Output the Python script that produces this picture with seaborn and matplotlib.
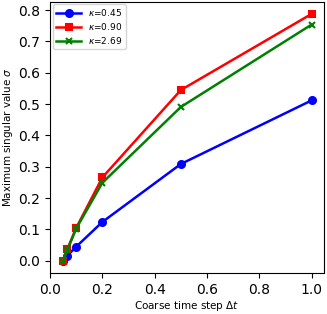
import matplotlib
matplotlib.use("Agg")
import matplotlib.pyplot as plt
import pandas as pd
import seaborn as sns

# coarse time steps and max singular values per kappa
dt = [0.05, 0.0667, 0.1, 0.2, 0.5, 1.0]
sigma_045 = [0.0, 0.017, 0.045, 0.124, 0.309, 0.512]
sigma_090 = [0.0, 0.038, 0.105, 0.266, 0.545, 0.788]
sigma_269 = [0.0, 0.036, 0.103, 0.249, 0.491, 0.754]
labels = [r"$\kappa$=0.45", r"$\kappa$=0.90", r"$\kappa$=2.69"]
colors = ["blue", "red", "green"]
markers = ["o", "s", "x"]

fig, ax = plt.subplots(figsize=(3.27, 3.14), dpi=100)
for s, lab, c, m in zip([sigma_045, sigma_090, sigma_269], labels, colors, markers):
    df = pd.DataFrame({"dt": dt, "sigma": s})
    sns.lineplot(
        data=df, x="dt", y="sigma", color=c, marker=m, label=lab,
        markersize=5, markeredgewidth=1.5, markeredgecolor=c,
        linewidth=1.8, ax=ax,
    )
ax.set_xlabel(r"Coarse time step $\Delta t$", fontsize=7.5, labelpad=1.5)
ax.set_ylabel(r"Maximum singular value $\sigma$", fontsize=7.5, labelpad=2.5)
ax.tick_params(labelsize=10)
ax.set_xticks([0.0, 0.2, 0.4, 0.6, 0.8, 1.0])
ax.legend(loc="upper left", fontsize=6.5, handlelength=2.8,
          labelspacing=0.3, borderaxespad=0.3, borderpad=0.35)

fig.subplots_adjust(left=0.153, right=0.991, bottom=0.130, top=0.995)
fig.savefig("out.png", dpi=100)
